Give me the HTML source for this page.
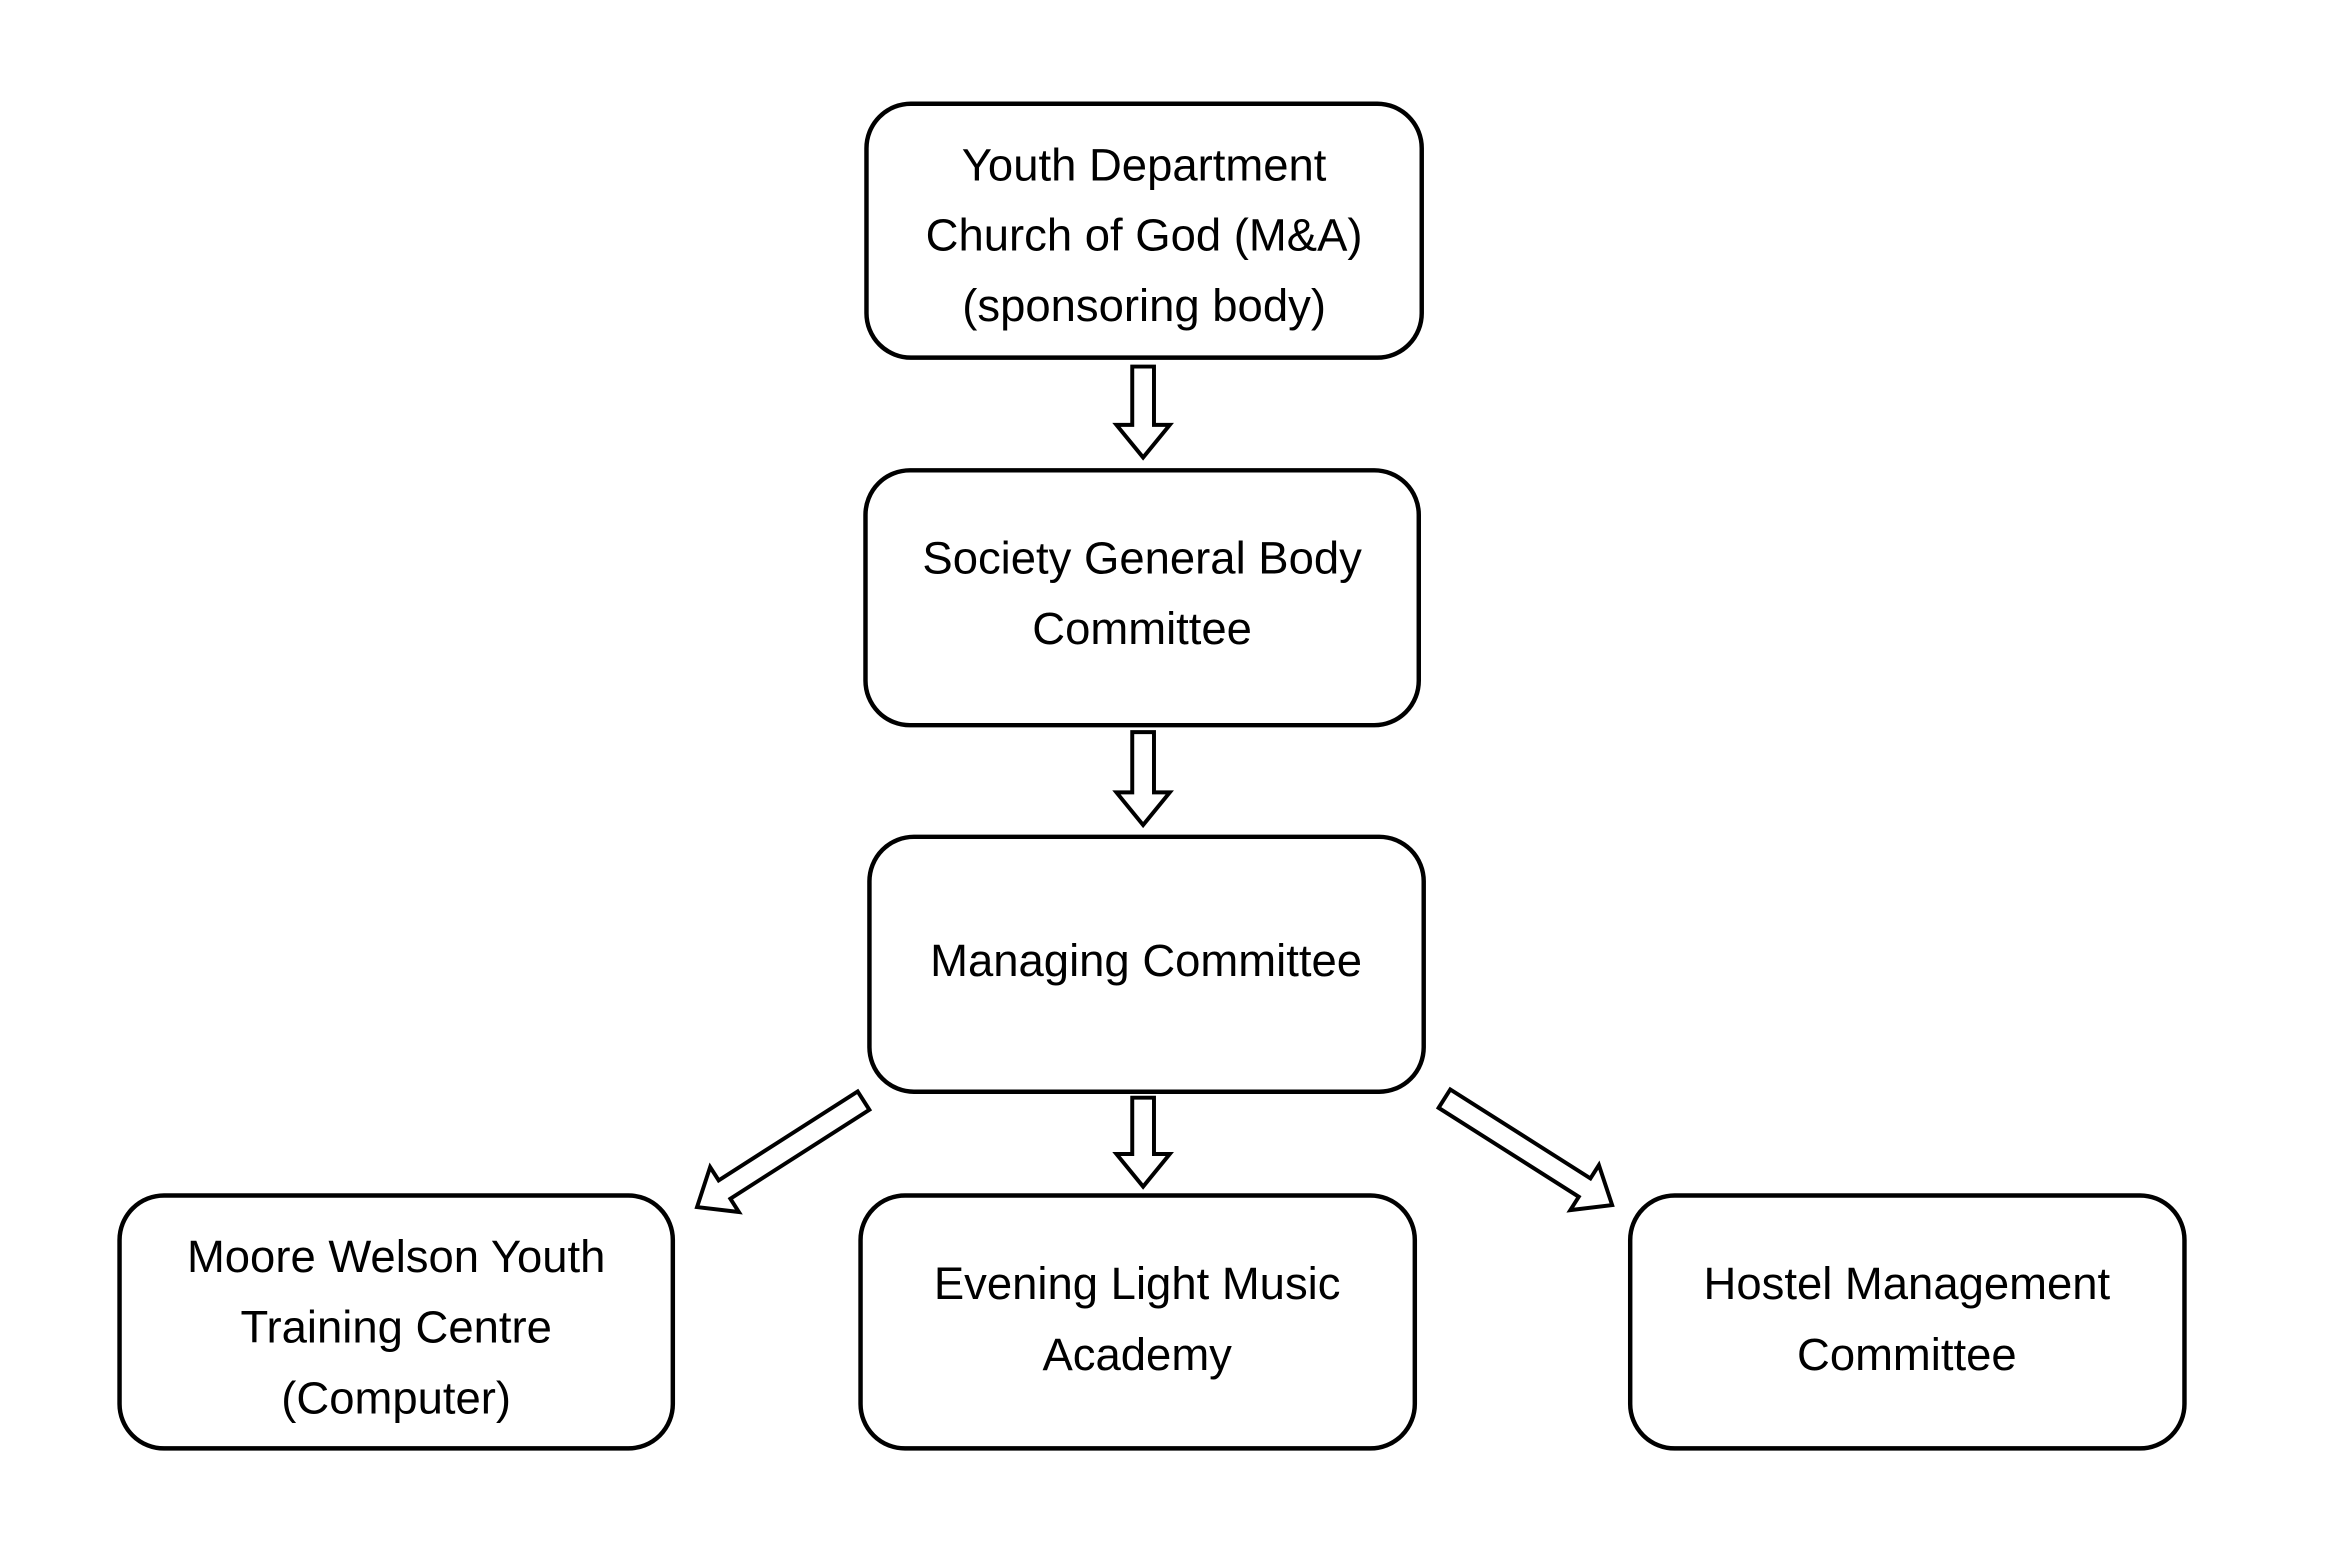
<!DOCTYPE html>
<html><head><meta charset="utf-8"><style>
html,body{margin:0;padding:0;background:#fff;}
svg{display:block}
text{font-family:"Liberation Sans",sans-serif;font-size:46px;fill:#000;text-anchor:middle;dominant-baseline:central}
</style></head><body>
<svg width="2333" height="1560" viewBox="0 0 2333 1560" xmlns="http://www.w3.org/2000/svg">
<g transform="scale(0.988)">
<g fill="#fff" stroke="#000" stroke-width="4.5">
<rect x="877" y="105" width="562" height="257" rx="45"/>
<rect x="876" y="476" width="560" height="258" rx="45"/>
<rect x="880" y="847" width="561" height="258" rx="45"/>
<rect x="121" y="1210" width="560" height="256" rx="45"/>
<rect x="871" y="1210" width="561" height="256" rx="45"/>
<rect x="1650" y="1210" width="561" height="256" rx="45"/>
</g>
<g fill="#fff" stroke="#000" stroke-width="4">
<path transform="translate(1157,371)" d="M-11,0 L11,0 L11,59 L27,59 L0,92 L-27,59 L-11,59 Z"/>
<path transform="translate(1157,741)" d="M-11,0 L11,0 L11,61 L27,61 L0,94 L-27,61 L-11,61 Z"/>
<path transform="translate(1157,1111)" d="M-11,0 L11,0 L11,57 L27,57 L0,90 L-27,57 L-11,57 Z"/>
<path transform="translate(874,1114) rotate(57.4)" d="M-11,0 L11,0 L11,167 L27,167 L0,200 L-27,167 L-11,167 Z"/>
<path transform="translate(1462,1112) rotate(-57.6)" d="M-11,0 L11,0 L11,168 L27,168 L0,201 L-27,168 L-11,168 Z"/>
</g>
<text x="1158" y="167">Youth Department</text>
<text x="1158" y="238">Church of God (M&amp;A)</text>
<text x="1158" y="309">(sponsoring body)</text>
<text x="1156" y="565">Society General Body</text>
<text x="1156" y="636">Committee</text>
<text x="1160" y="972">Managing Committee</text>
<text x="401" y="1272">Moore Welson Youth</text>
<text x="401" y="1343">Training Centre</text>
<text x="401" y="1415">(Computer)</text>
<text x="1151" y="1299">Evening Light Music</text>
<text x="1151" y="1371">Academy</text>
<text x="1930" y="1299">Hostel Management</text>
<text x="1930" y="1371">Committee</text>
</g>
</svg>
</body></html>
